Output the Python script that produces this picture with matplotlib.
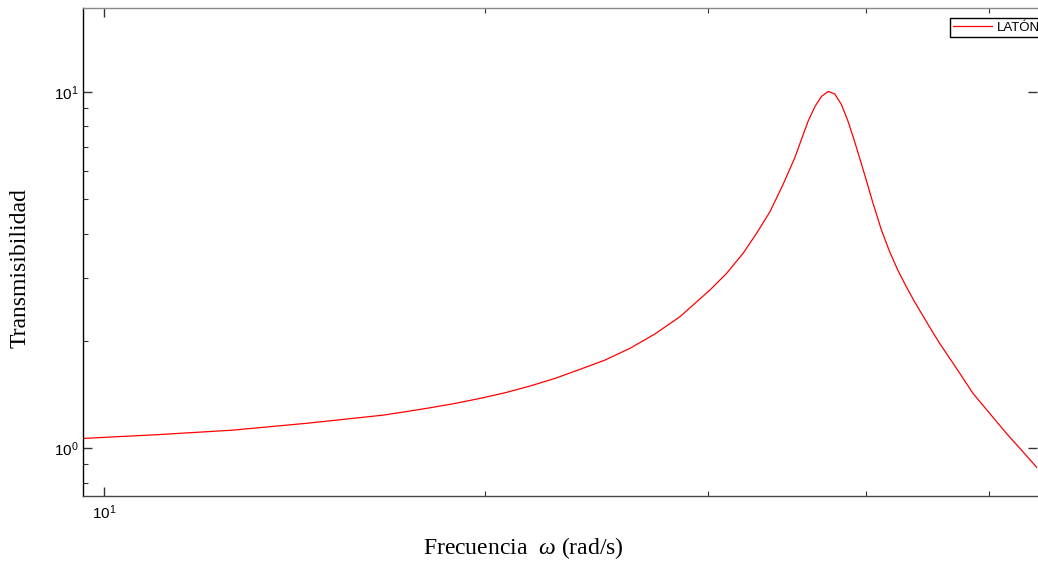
import numpy as np
import matplotlib
matplotlib.use("Agg")
import matplotlib.pyplot as plt
from matplotlib.ticker import LogLocator, NullFormatter, LogFormatterMathtext

# frecuencia (rad/s) y transmisibilidad
omega = [9.625, 11.03, 12.64, 14.49, 16.61, 17.29, 18.09, 18.94, 19.82, 20.74,
         21.70, 22.72, 23.77, 24.88, 26.03, 27.24, 28.51, 29.20, 30.11, 31.04,
         31.99, 32.78, 33.58, 34.40, 35.15, 35.58, 36.01, 36.45, 36.89, 37.34,
         37.79, 38.25, 38.72, 39.19, 39.67, 40.04, 40.52, 41.14, 41.77, 42.40,
         43.06, 43.71, 44.38, 45.06, 45.74, 47.16, 48.60, 50.10, 51.65, 53.23,
         54.67]
trans = [1.0648, 1.0912, 1.1234, 1.1752, 1.2377, 1.2647, 1.2978, 1.3353, 1.3793,
         1.4302, 1.4936, 1.5697, 1.6640, 1.7670, 1.9055, 2.0908, 2.3377, 2.5216,
         2.7782, 3.0955, 3.5242, 4.0092, 4.6018, 5.4975, 6.5477, 7.3796, 8.2887,
         9.0935, 9.7133, 10.032, 9.8714, 9.2241, 8.2619, 7.2377, 6.2770, 5.6234,
         4.8618, 4.0958, 3.5523, 3.1523, 2.8326, 2.5710, 2.3483, 2.1454, 1.9682,
         1.6748, 1.4246, 1.2515, 1.0998, 0.9764, 0.8769]
serie = "LATÓN"

plt.rcParams['mathtext.fontset'] = 'custom'
plt.rcParams['mathtext.it'] = 'Liberation Serif:italic'
plt.rcParams['mathtext.rm'] = 'Liberation Sans'

fig = plt.figure(figsize=(10.38, 5.62), dpi=100)
ax = fig.add_axes([83 / 1038, 66 / 562, 954 / 1038, 488 / 562])

ax.plot(omega, trans, color='red', lw=0.9, label=serie)
ax.set_xscale('log')
ax.set_yscale('log')
ax.set_xlim(9.625, 54.6)
ax.set_ylim(0.734, 17.2)

for a in (ax.xaxis, ax.yaxis):
    a.set_major_locator(LogLocator(base=10))
    a.set_minor_locator(LogLocator(base=10, subs=np.arange(1, 10)))
    a.set_minor_formatter(NullFormatter())
    a.set_major_formatter(LogFormatterMathtext())

ax.tick_params(which='both', direction='in', top=True, right=True,
               color='#333333', labelsize=11, labelcolor='black',
               labelfontfamily='Liberation Sans')
ax.tick_params(which='major', length=6.5, width=1)
ax.tick_params(which='minor', length=3.6, width=0.8, right=False)
ax.tick_params(axis='x', pad=5)

ax.spines['left'].set_color('black')
ax.spines['bottom'].set_color('#444444')
ax.spines['top'].set_color('#888888')
ax.spines['right'].set_visible(False)
for s in ax.spines.values():
    s.set_linewidth(1)

leg = fig.legend(loc='upper left', bbox_to_anchor=(950 / 1038, 544 / 562),
                 bbox_transform=fig.transFigure, fancybox=False,
                 edgecolor='black', framealpha=1, borderpad=0.25,
                 handlelength=2.9, handletextpad=0.4, borderaxespad=0,
                 prop={'family': 'Liberation Sans', 'size': 9.5})
leg.get_frame().set_linewidth(1)

fig.text(523 / 1038, 14 / 562, r'Frecuencia  $\omega$ (rad/s)', ha='center',
         va='center', family='Liberation Serif', fontsize=17)
fig.text(20 / 1038, 294 / 562, 'Transmisibilidad', rotation=90, ha='center',
         va='center', family='Liberation Serif', fontsize=17)

fig.savefig('out.png', dpi=100)
